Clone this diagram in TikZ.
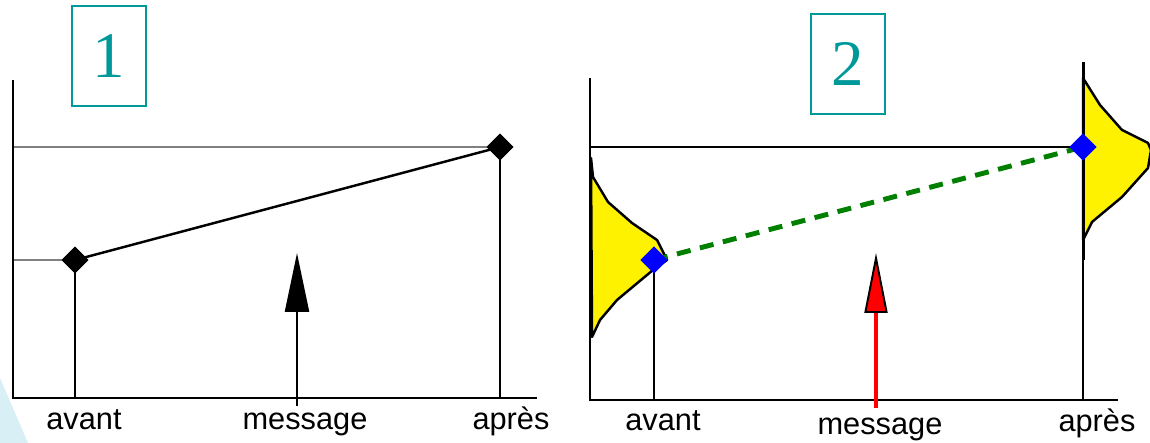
\documentclass[tikz,border=0pt]{standalone}
\usepackage{fontspec}
\setmainfont{Liberation Sans}
\newfontfamily\numfont{Liberation Serif}
\usetikzlibrary{arrows.meta,shapes.geometric}
\definecolor{boxteal}{HTML}{009999}
\definecolor{paleblue}{HTML}{D8EFF5}
\definecolor{dashgreen}{HTML}{007F00}

\begin{document}
\begin{tikzpicture}[x=0.02cm, y=-0.02cm,
    axis/.style={line width=1.7pt, black},
    guide/.style={line width=0.6pt, #1},
    guide/.default=black,
    stem/.style={line width=1.4pt, black},
    pnt/.style={diamond, fill=#1, inner sep=0pt, minimum size=0.54cm},
    numbox/.style={draw=boxteal, line width=0.9pt, text=boxteal,
                   font=\numfont\fontsize{37}{37}\selectfont,
                   minimum width=1.47cm, minimum height=2cm, inner sep=0pt},
    lbl/.style={anchor=base, font=\fontsize{17.5}{21}\selectfont},
    dist/.style={fill=yellow, draw=black, line width=1.4pt, line join=round},
    msg/.style={line width=1.4pt, -{Triangle[length=1.18cm, width=0.48cm]}},
    msgred/.style={red, line width=2.8pt,
                   -{Triangle[length=1.2cm, width=0.46cm, fill=red, color=black, line width=1.1pt]}}
  ]
    \useasboundingbox (0,0) rectangle (1150,443);
    \fill[paleblue] (0,378) -- (28,443) -- (0,443) -- cycle;

    % panel 1
    \node[numbox] (n1) at (109,56) {1};
    \coordinate (ytop1) at (13,80);
    \coordinate (o1)    at (13,398);
    \coordinate (xend1) at (537,398);
    \node[pnt=black] (av1) at (75,260) {};
    \node[pnt=black] (ap1) at (500,147) {};
    \draw[guide=gray] (ytop1 |- av1) -- (av1.center);
    \draw[guide=gray] (ytop1 |- ap1) -- (ap1.center);
    \draw[axis] (ytop1) -- (o1) -- (xend1);
    \draw[stem] (av1.center) -- (av1.center |- o1);
    \draw[stem] (ap1.center) -- (ap1.center |- o1);
    \draw[stem] (av1.center) -- (ap1.center);
    \node[pnt=black] at (av1) {};
    \node[pnt=black] at (ap1) {};
    \coordinate (m1)    at (297,406);
    \coordinate (m1tip) at (297,253);
    \draw[msg] (m1) -- (m1tip);
    \node[lbl] (lav1) at (84,429)  {avant};
    \node[lbl] (lm1)  at (305,429) {message};
    \node[lbl] (lap1) at (511,429) {après};

    % panel 2
    \node[numbox] (n2) at (848,64) {2};
    \coordinate (ytop2) at (590,78);
    \coordinate (o2)    at (590,400);
    \coordinate (xend2) at (1118,400);
    \coordinate (av2)   at (654,260);
    \coordinate (ap2)   at (1083,147);
    \draw[dist] (591,158) -- (593,177) -- (608,202) -- (632,223) -- (657,240)
      -- (667,260) -- (653,270) -- (617,300) -- (600,320) -- (592,337) -- cycle;
    \draw[dist] (1083,78) -- (1100,105) -- (1122,130) -- (1148,143) -- (1151,150)
      -- (1148,168) -- (1122,197) -- (1092,222) -- (1083,240) -- cycle;
    \draw[guide] (ytop2 |- ap2) -- (ap2);
    \draw[guide] (av2) -- (av2 |- o2);
    \draw[guide] (ap2) -- (ap2 |- o2);
    \draw[axis] (ytop2) -- (o2) -- (xend2);
    \draw[axis] (1083,62) -- (1083,260);
    \draw[dashgreen, line width=2.8pt, dash pattern=on 8pt off 5.5pt] (av2) -- (ap2);
    \node[pnt=blue, minimum size=0.55cm] (dav2) at (av2) {};
    \node[pnt=blue, minimum size=0.55cm] (dap2) at (ap2) {};
    \coordinate (m2)    at (876,408);
    \coordinate (m2tip) at (876,253);
    \draw[msgred] (m2) -- (m2tip);
    \node[lbl] (lav2) at (663,430)  {avant};
    \node[lbl] (lm2)  at (880,434)  {message};
    \node[lbl] (lap2) at (1097,431) {après};
\end{tikzpicture}
\end{document}
